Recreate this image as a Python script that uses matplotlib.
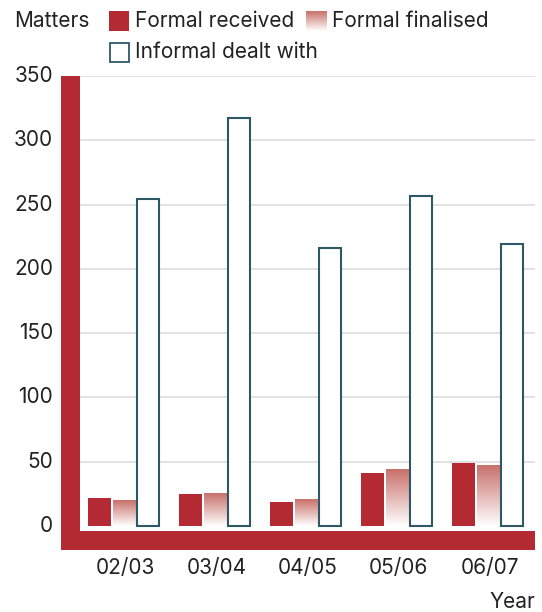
import numpy as np
import matplotlib
matplotlib.use("Agg")
import matplotlib.pyplot as plt
from matplotlib.patches import Rectangle
from matplotlib.colors import LinearSegmentedColormap

plt.rcParams['font.family'] = ['Inter', 'DejaVu Sans']

years = ["02/03", "03/04", "04/05", "05/06", "06/07"]
formal_received = [22, 25, 19, 41, 49]
formal_finalised = [20, 25, 21, 44, 47]
informal_dealt = [254, 317, 216, 257, 219]
y_ticks = [0, 50, 100, 150, 200, 250, 300, 350]

RED = "#B32A33"
FADE_TOP = "#C8706A"
TEAL = "#2E5866"
GRID = "#DDDDDD"
TEXT = "#222222"
FS = 15

W, H = 542, 612
fig = plt.figure(figsize=(W / 100, H / 100), dpi=100)


def fx(px):
    return px / W


def fy(py):
    return 1 - py / H


# plot area (pixel box): x 80..535, y 76..531
ax = fig.add_axes([fx(80), fy(531), fx(535) - fx(80), fy(76) - fy(531)])
ax.axis("off")

fade = LinearSegmentedColormap.from_list("fade", ["#FFFFFF", FADE_TOP])
grad = np.linspace(0, 1, 256).reshape(-1, 1)

for v in y_ticks[1:]:
    ax.axhline(v, color=GRID, lw=1.2, zorder=0)

x = np.arange(len(years))
bw = 0.245
ax.bar(x - 0.285, formal_received, width=bw, color=RED, zorder=2)
fin = ax.bar(x - 0.02, formal_finalised, width=bw, color="none", zorder=2)
for b in fin:
    x0, w, h = b.get_x(), b.get_width(), b.get_height()
    ax.imshow(grad, extent=(x0, x0 + w, 0, h), origin="lower", cmap=fade,
              aspect="auto", zorder=2)
ax.bar(x + 0.245, informal_dealt, width=bw, facecolor="white",
       edgecolor=TEAL, linewidth=1.5, zorder=2)
ax.set_xlim(-0.5, len(years) - 0.5)
ax.set_ylim(-3.9, 350)

# thick red axis frame
fig.add_artist(Rectangle((fx(61), fy(550)), fx(80) - fx(61), fy(76) - fy(550),
                         transform=fig.transFigure, color=RED, lw=0))
fig.add_artist(Rectangle((fx(61), fy(550)), fx(535) - fx(61), fy(531) - fy(550),
                         transform=fig.transFigure, color=RED, lw=0))

# y tick labels
for v in y_ticks:
    yp = ax.transData.transform((0, v))[1]
    fig.text(fx(53), yp / H, str(v), ha="right", va="center",
             fontsize=FS, color=TEXT)

# x tick labels
for i, lab in enumerate(years):
    xp = ax.transData.transform((i, 0))[0]
    fig.text(xp / W, fy(568), lab, ha="center", va="center",
             fontsize=FS, color=TEXT)

fig.text(fx(535), fy(602), "Year", ha="right", va="center", fontsize=FS, color=TEXT)

# legend
fig.text(fx(14), fy(21), "Matters", ha="left", va="center", fontsize=FS, color=TEXT)
fig.add_artist(Rectangle((fx(109), fy(31)), fx(20), 20 / H,
                         transform=fig.transFigure, color=RED, lw=0))
fig.text(fx(135), fy(21), "Formal received", ha="left", va="center", fontsize=FS, color=TEXT)
lax = fig.add_axes([fx(306), fy(31), fx(20), 20 / H])
lax.imshow(grad, origin="lower", cmap=fade, aspect="auto", extent=(0, 1, 0, 1))
lax.axis("off")
fig.text(fx(332), fy(21), "Formal finalised", ha="left", va="center", fontsize=FS, color=TEXT)
fig.add_artist(Rectangle((fx(110), fy(62)), fx(19), 19 / H,
                         transform=fig.transFigure, facecolor="white",
                         edgecolor=TEAL, lw=1.3))
fig.text(fx(135), fy(52), "Informal dealt with", ha="left", va="center", fontsize=FS, color=TEXT)

fig.savefig("out.png", dpi=100)
